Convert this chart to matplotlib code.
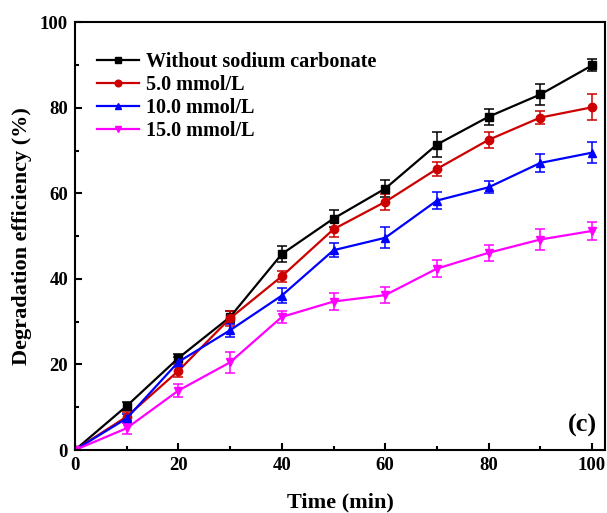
import matplotlib.pyplot as plt
import numpy as np

plt.rcParams['font.family'] = ['Liberation Serif', 'DejaVu Serif']
plt.rcParams['font.weight'] = 'bold'

time = [0, 10, 20, 30, 40, 50, 60, 70, 80, 90, 100]

without = [0, 10.3, 21.5, 31.1, 45.8, 54.1, 61.1, 71.4, 77.9, 83.1, 89.9]
without_err = [0, 1.0, 1.0, 1.5, 1.8, 1.9, 2.0, 2.9, 1.9, 2.4, 1.4]

c5 = [0, 7.8, 18.5, 30.8, 40.6, 51.6, 58.0, 65.7, 72.5, 77.7, 80.1]
c5_err = [0, 1.0, 1.5, 1.7, 1.3, 1.8, 1.9, 1.6, 1.9, 1.5, 3.0]

c10 = [0, 7.4, 20.6, 28.0, 36.1, 46.7, 49.6, 58.3, 61.4, 67.1, 69.5]
c10_err = [0, 1.0, 1.2, 1.5, 1.7, 1.6, 2.5, 1.9, 1.4, 2.1, 2.4]

c15 = [0, 5.1, 13.9, 20.5, 31.1, 34.7, 36.2, 42.4, 46.1, 49.2, 51.2]
c15_err = [0, 1.3, 1.5, 2.4, 1.3, 2.0, 1.8, 1.9, 1.9, 2.4, 2.1]

labels = ["Without sodium carbonate", "5.0 mmol/L", "10.0 mmol/L", "15.0 mmol/L"]
series = [without, c5, c10, c15]
errors = [without_err, c5_err, c10_err, c15_err]
colors = ["black", "#CC0000", "#0000FF", "#FF00FF"]
markers = ["s", "o", "^", "v"]

fig = plt.figure(figsize=(6.07, 5.13), dpi=100)
ax = fig.add_axes([0.1236, 0.1228, 0.873, 0.834])

handles = []
for y, e, c, m, lab in zip(series, errors, colors, markers, labels):
    eb = ax.errorbar(time, y, yerr=e, color=c, marker=m, markersize=6, linewidth=1.6,
                     capsize=3.5, elinewidth=1.1, capthick=1.1, label=lab)
    handles.append(eb.lines[0])

ax.set_xlim(0, 102.5)
ax.set_ylim(0, 100)
ax.set_xticks(np.arange(0, 101, 20))
ax.set_xticks(np.arange(0, 101, 10), minor=True)
ax.set_yticks(np.arange(0, 101, 20))
ax.set_yticks(np.arange(0, 101, 10), minor=True)
ax.tick_params(which='both', direction='in', top=False, right=False, width=1.5)
ax.tick_params(which='major', length=5, labelsize=13.5, pad=5)
ax.tick_params(which='minor', length=3)
for s in ax.spines.values():
    s.set_linewidth(1.5)

ax.set_xlabel("Time (min)", fontsize=16, fontweight='bold', labelpad=13)
ax.set_ylabel("Degradation efficiency (%)", fontsize=16, fontweight='bold', labelpad=6)

leg = ax.legend(handles, labels, loc='upper left', frameon=False, fontsize=14.5,
                bbox_to_anchor=(0.026, 0.95), borderaxespad=0, markerscale=0.8,
                handlelength=2.1, handletextpad=0.35, labelspacing=0.15)
for t in leg.get_texts():
    t.set_fontweight('bold')

ax.text(0.985, 0.03, "(c)", transform=ax.transAxes, ha='right', va='bottom',
        fontsize=19, fontweight='bold')

fig.savefig("out.png", dpi=100)
